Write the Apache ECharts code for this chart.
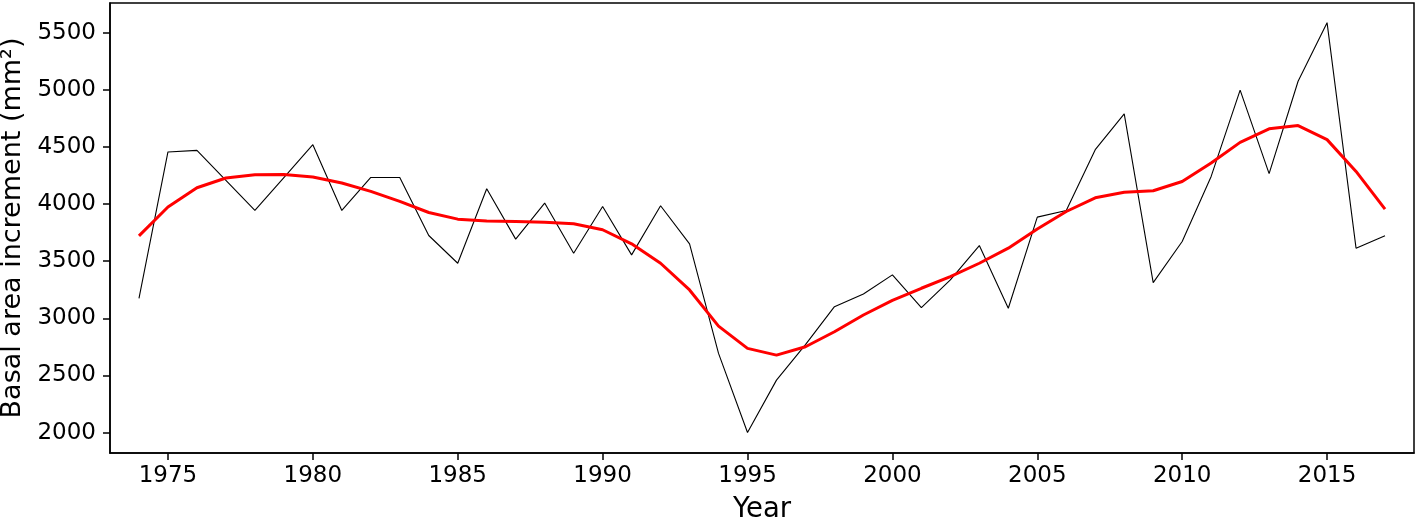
<!DOCTYPE html>
<html>
<head>
<meta charset="utf-8">
<script src="https://cdn.jsdelivr.net/npm/echarts@6/dist/echarts.min.js"></script>
<style>
html,body{margin:0;padding:0;background:#fff;}
#chart{width:1418px;height:520px;}
</style>
</head>
<body>
<div id="chart"></div>
<script>
const years = [1974,1975,1976,1977,1978,1979,1980,1981,1982,1983,1984,1985,1986,1987,1988,1989,1990,1991,1992,1993,1994,1995,1996,1997,1998,1999,2000,2001,2002,2003,2004,2005,2006,2007,2008,2009,2010,2011,2012,2013,2014,2015,2016,2017];
const bai = [3175,4456,4470,4207,3944,4232,4520,3944,4233,4233,3725,3482,4134,3693,4009,3570,3979,3555,3985,3652,2693,2000,2459,2770,3102,3213,3380,3093,3336,3637,3088,3886,3944,4476,4789,3312,3672,4242,4997,4266,5075,5588,3614,3722];
const smooth = [3722,3974,4143,4228,4257,4258,4237,4184,4111,4023,3926,3868,3851,3848,3840,3827,3775,3652,3482,3248,2932,2737,2678,2751,2882,3029,3157,3263,3365,3482,3614,3781,3935,4055,4103,4117,4198,4360,4540,4659,4687,4564,4286,3956];
const xTicks = [1975,1980,1985,1990,1995,2000,2005,2010,2015];
const yTicks = [2000,2500,3000,3500,4000,4500,5000,5500];

const font = '"DejaVu Sans", sans-serif';
const chart = echarts.init(document.getElementById('chart'), null, {renderer:'canvas'});
chart.setOption({
  animation: false,
  backgroundColor: '#fff',
  grid: {left:110, right:4, top:3, bottom:67, show:true, borderColor:'#000', borderWidth:1.5, backgroundColor:'transparent', containLabel:false, outerBoundsMode:'none'},
  xAxis: {
    type:'value', min:1973, max:2018,
    name:'Year', nameLocation:'middle', nameGap:43,
    nameTextStyle:{fontFamily:font, fontSize:27.5, color:'#000'},
    axisLine:{show:true, lineStyle:{color:'#000', width:1.5}},
    axisTick:{show:true, length:7, lineStyle:{color:'#000', width:1.5}, customValues:xTicks},
    axisLabel:{fontFamily:font, fontSize:23, color:'#000', margin:12, customValues:xTicks, formatter:v=>String(v)},
    splitLine:{show:false}
  },
  yAxis: {
    type:'value', min:1821, max:5760,
    name:'Basal area increment (mm²)', nameLocation:'middle', nameGap:83, nameRotate:90,
    nameTextStyle:{fontFamily:font, fontSize:27, color:'#000'},
    axisLine:{show:true, lineStyle:{color:'#000', width:1.5}},
    axisTick:{show:true, length:7, lineStyle:{color:'#000', width:1.5}, customValues:yTicks},
    axisLabel:{fontFamily:font, fontSize:23, color:'#000', margin:14, customValues:yTicks, formatter:v=>String(v)},
    splitLine:{show:false}
  },
  series: [
    {type:'line', data: years.map((y,i)=>[y,bai[i]]), showSymbol:false, symbol:'none',
     lineStyle:{color:'#000', width:1.1}, z:2},
    {type:'line', data: years.map((y,i)=>[y,smooth[i]]), showSymbol:false, symbol:'none',
     lineStyle:{color:'#ff0000', width:3}, z:3}
  ]
});
</script>
</body>
</html>
